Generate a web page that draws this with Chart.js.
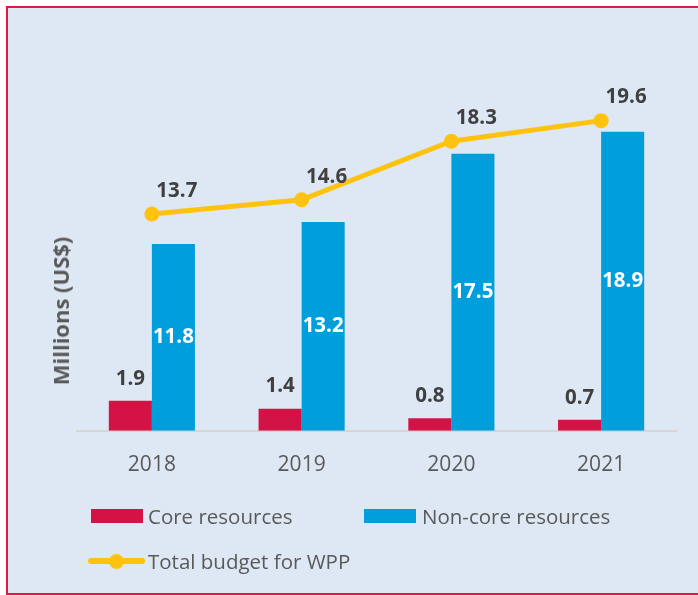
<!DOCTYPE html>
<html>
<head>
<meta charset="utf-8">
<script src="https://cdn.jsdelivr.net/npm/chart.js@4/dist/chart.umd.min.js"></script>
<style>
  html, body { margin: 0; padding: 0; background: #fff; }
  body { width: 698px; height: 595px; position: relative; overflow: hidden; font-family: "Open Sans", sans-serif; }
  .frame {
    position: absolute; left: 6px; top: 6px; width: 700px; height: 585px;
    background: #dde8f4;
    border-left: 2px solid #d81b4a; border-top: 2px solid #d81b4a; border-bottom: 2px solid #d81b4a;
  }
  #chart { position: absolute; left: 0; top: 0; }
  .ytitle {
    position: absolute; left: 60px; top: 311px;
    transform: translate(-50%, -50%) rotate(-90deg);
    font-weight: bold; font-size: 22px; color: #595959; white-space: nowrap;
  }
  .legend { position: absolute; font-size: 20.5px; color: #595959; white-space: nowrap; }
</style>
</head>
<body>
<div class="frame"></div>
<canvas id="chart" width="698" height="595"></canvas>
<div class="ytitle">Millions (US$)</div>
<div id="legend"></div>
<script>
(function(){
  'use strict';

  // Data
  const years = ['2018', '2019', '2020', '2021'];
  const coreValues = [1.9, 1.4, 0.8, 0.7];
  const nonCoreValues = [11.8, 13.2, 17.5, 18.9];
  const totalValues = [13.7, 14.6, 18.3, 19.6];

  const RED = '#d31245';
  const BLUE = '#009edb';
  const YELLOW = '#ffc20e';
  const FONT = '"Open Sans", sans-serif';

  // Value labels drawn from element positions
  const valueLabels = {
    id: 'valueLabels',
    afterDatasetsDraw(chart) {
      const ctx = chart.ctx;
      ctx.save();
      ctx.font = 'bold 20.5px ' + FONT;
      ctx.textAlign = 'center';
      ctx.textBaseline = 'middle';
      chart.data.datasets.forEach((ds, i) => {
        const meta = chart.getDatasetMeta(i);
        meta.data.forEach((el, j) => {
          const txt = ds.data[j].toFixed(1);
          if (ds.kind === 'core') {
            ctx.fillStyle = '#404040';
            ctx.fillText(txt, el.x, el.y - 22);
          } else if (ds.kind === 'noncore') {
            ctx.fillStyle = '#ffffff';
            ctx.fillText(txt, el.x, (el.y + el.base) / 2);
          } else {
            ctx.fillStyle = '#404040';
            ctx.fillText(txt, el.x + 25, el.y - 23);
          }
        });
      });
      ctx.restore();
    }
  };

  const chart = new Chart(document.getElementById('chart'), {
    type: 'bar',
    data: {
      labels: years,
      datasets: [
        {
          type: 'line', kind: 'total', label: 'Total budget for WPP',
          data: totalValues, borderColor: YELLOW, backgroundColor: YELLOW,
          borderWidth: 5, pointRadius: 7.5, pointBackgroundColor: YELLOW,
          pointBorderWidth: 0, tension: 0, order: 0
        },
        { kind: 'core', label: 'Core resources', data: coreValues, backgroundColor: RED, order: 1 },
        { kind: 'noncore', label: 'Non-core resources', data: nonCoreValues, backgroundColor: BLUE, order: 1 }
      ]
    },
    options: {
      responsive: false,
      animation: false,
      events: [],
      layout: { padding: { left: 77, right: 22, top: 51, bottom: 103 } },
      datasets: { bar: { categoryPercentage: 0.575, barPercentage: 1 } },
      plugins: { legend: { display: false }, tooltip: { enabled: false } },
      scales: {
        x: {
          grid: { display: false },
          border: { display: true, color: '#d6d6d6', width: 2 },
          ticks: { color: '#595959', font: { family: FONT, size: 21 }, padding: 14 }
        },
        y: { display: false, min: 0, max: 24 }
      }
    },
    plugins: [valueLabels]
  });

  // HTML legend built from datasets
  const legendPos = {
    core: { left: 91, top: 516, w: 52, h: 14, text: 148 },
    noncore: { left: 364, top: 516, w: 52, h: 14, text: 422 },
    total: { left: 88, top: 561, w: 57, h: 6, text: 148 }
  };
  const legend = document.getElementById('legend');
  chart.data.datasets.forEach(ds => {
    const p = legendPos[ds.kind];
    const color = ds.kind === 'total' ? ds.borderColor : ds.backgroundColor;
    let html = '<div class="legend" style="left:' + p.left + 'px;top:' + (p.top - p.h / 2) + 'px;width:' + p.w + 'px;height:' + p.h + 'px;background:' + color + (ds.kind === 'total' ? ';border-radius:3px' : '') + '"></div>';
    if (ds.kind === 'total') {
      html += '<div class="legend" style="left:' + (p.left + p.w / 2 - 7.5) + 'px;top:' + (p.top - 7.5) + 'px;width:15px;height:15px;border-radius:50%;background:' + color + '"></div>';
    }
    html += '<div class="legend" style="left:' + p.text + 'px;top:' + (p.top - 14) + 'px;line-height:28px">' + ds.label + '</div>';
    legend.insertAdjacentHTML('beforeend', html);
  });
})();
</script>
</body>
</html>
